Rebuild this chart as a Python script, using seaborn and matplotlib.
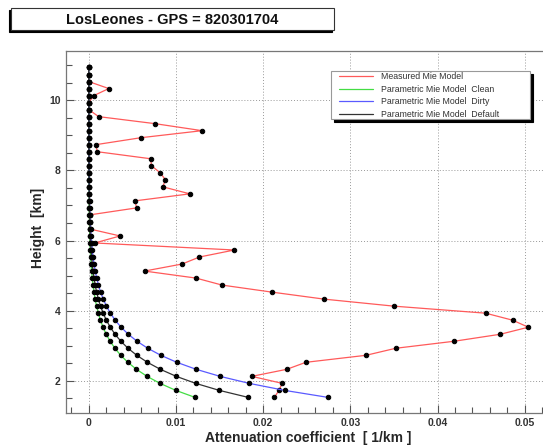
import numpy as np
import pandas as pd
import seaborn as sns
import matplotlib.pyplot as plt
import matplotlib.patches as mpatches
from matplotlib.lines import Line2D

sns.set_style('ticks')
plt.rcParams['font.family'] = ['Liberation Sans', 'DejaVu Sans']

# heights of the profile bins [km]
height = [1.53, 1.73, 1.93, 2.13, 2.33, 2.53, 2.73, 2.93, 3.13, 3.33,
          3.53, 3.73, 3.93, 4.13, 4.33, 4.53, 4.73, 4.93, 5.13, 5.33,
          5.53, 5.73, 5.93, 6.13, 6.33, 6.53, 6.73, 6.93, 7.13, 7.33,
          7.53, 7.73, 7.93, 8.13, 8.33, 8.53, 8.73, 8.93, 9.13, 9.33,
          9.53, 9.73, 9.93, 10.13, 10.33, 10.53, 10.73, 10.93]

# attenuation [1/km]
measured = [0.0213, 0.0218, 0.0222, 0.0187, 0.0227, 0.0249, 0.0318, 0.0352, 0.0419, 0.0472,
            0.0504, 0.0486, 0.0455, 0.0350, 0.0270, 0.0210, 0.0153, 0.0123, 0.0064, 0.0107,
            0.0127, 0.0167, 0.0007, 0.0036, 0.0001, 0.0001, 0.0001, 0.0055, 0.0053, 0.0116,
            0.0085, 0.0088, 0.0082, 0.0072, 0.0071, 0.0010, 0.0008, 0.0060, 0.0130, 0.0076,
            0.00115, 0.0, 0.0, 0.0006, 0.0023, 0.0, 0.0, 0.0]

clean = [0.01220, 0.00999, 0.00818, 0.00669, 0.00548, 0.00449, 0.00367, 0.00301, 0.00246, 0.00201,
         0.00165, 0.00135, 0.00111, 0.00091, 0.00074, 0.00061, 0.00050, 0.00041, 0.00033, 0.00027,
         0.00022, 0.00018, 0.00015, 0.00012, 0.00010, 0.00008, 0.00007, 0.00005, 0.00005, 0.00004,
         0.00003, 0.00003, 0.00002, 0.00002, 0.00002, 0.00001, 0.00001, 0.00001, 0.00001, 0.00001,
         0.00001, 0.00001, 0.0, 0.0, 0.0, 0.0, 0.0, 0.0]

dirty = [0.02745, 0.02247, 0.01841, 0.01506, 0.01233, 0.01010, 0.00827, 0.00677, 0.00554, 0.00454,
         0.00371, 0.00304, 0.00249, 0.00204, 0.00167, 0.00137, 0.00112, 0.00092, 0.00075, 0.00061,
         0.00050, 0.00041, 0.00034, 0.00028, 0.00023, 0.00018, 0.00015, 0.00012, 0.00010, 0.00008,
         0.00007, 0.00006, 0.00005, 0.00004, 0.00003, 0.00003, 0.00002, 0.00002, 0.00002, 0.00001,
         0.00001, 0.00001, 0.00001, 0.00001, 0.00001, 0.0, 0.0, 0.0]

default = [0.01830, 0.01498, 0.01227, 0.01004, 0.00822, 0.00673, 0.00551, 0.00451, 0.00369, 0.00302,
           0.00248, 0.00203, 0.00166, 0.00136, 0.00111, 0.00091, 0.00075, 0.00061, 0.00050, 0.00041,
           0.00034, 0.00027, 0.00022, 0.00018, 0.00015, 0.00012, 0.00010, 0.00008, 0.00007, 0.00006,
           0.00005, 0.00004, 0.00003, 0.00002, 0.00002, 0.00002, 0.00001, 0.00001, 0.00001, 0.00001,
           0.00001, 0.00001, 0.0, 0.0, 0.0, 0.0, 0.0, 0.0]

labels = ['Measured Mie Model', 'Parametric Mie Model  Clean',
          'Parametric Mie Model  Dirty', 'Parametric Mie Model  Default']
colors = ['#ff5a5a', '#44dd44', '#5a5aff', '#333333']

W, H = 543, 445
fig = plt.figure(figsize=(W / 100, H / 100), dpi=100)
ax = fig.add_axes([66 / W, 1 - 412.5 / H, (551 - 66) / W, (412.5 - 51) / H])

for vals, col in zip([measured, clean, dirty, default], colors):
    df = pd.DataFrame({'att': vals, 'h': height})
    sns.lineplot(data=df, x='att', y='h', sort=False, estimator=None, ax=ax,
                 color=col, linewidth=0.9, marker='o', markersize=3.2,
                 markerfacecolor='black', markeredgecolor='black')

ax.set_xlim(-0.0026, 0.053)
ax.set_ylim(1.1, 11.4)
ax.set_xticks([0, 0.01, 0.02, 0.03, 0.04, 0.05])
ax.set_xticklabels(['0', '0.01', '0.02', '0.03', '0.04', '0.05'])
ax.set_xticks(np.arange(-0.002, 0.053, 0.002), minor=True)
ax.set_yticks([2, 4, 6, 8, 10])
ax.set_yticks(np.arange(1.5, 11.4, 0.5), minor=True)
ax.tick_params(which='both', direction='in', top=False, right=False,
               colors='#555555', labelcolor='#333333', labelsize=7.5, pad=4)
ax.tick_params(which='major', length=5.5, width=0.8)
ax.tick_params(which='minor', length=4, width=0.8)
for lab in ax.get_xticklabels() + ax.get_yticklabels():
    lab.set_fontweight('bold')
ax.grid(True, which='major', linestyle=(0, (1, 2)), color='#999999', linewidth=0.7)
for s in ['left', 'bottom', 'top']:
    ax.spines[s].set_color('#777777')
    ax.spines[s].set_linewidth(0.9)
ax.spines['right'].set_visible(False)

ax.set_xlabel('Attenuation coefficient  [ 1/km ]', fontsize=10, fontweight='bold')
ax.set_ylabel('Height  [km]', fontsize=10, fontweight='bold')
ax.xaxis.set_label_coords(242.5 / 485, -(438 - 412.5) / 361.5)
ax.xaxis.label.set_va('center')
ax.yaxis.set_label_coords(-(66 - 38) / 485, 0.51)
ax.yaxis.label.set_va('center')

# title box with shadow
fig.patches.append(mpatches.Rectangle((9 / W, 1 - 32 / H), 323 / W, 22 / H,
                                      transform=fig.transFigure, facecolor='black',
                                      edgecolor='black', linewidth=0.8))
fig.patches.append(mpatches.Rectangle((11 / W, 1 - 30 / H), 323 / W, 22 / H,
                                      transform=fig.transFigure, facecolor='white',
                                      edgecolor='#333333', linewidth=0.8))
fig.text(172 / W, 1 - 19.5 / H, 'LosLeones - GPS = 820301704', ha='center', va='center',
         fontsize=10.5, fontweight='bold', color='#111111')

# legend box with shadow
fig.patches.append(mpatches.Rectangle((334 / W, 1 - 122 / H), 199 / W, 48 / H,
                                      transform=fig.transFigure, facecolor='black',
                                      edgecolor='black', linewidth=0.8, zorder=3))
fig.patches.append(mpatches.Rectangle((331 / W, 1 - 119 / H), 199 / W, 48 / H,
                                      transform=fig.transFigure, facecolor='white',
                                      edgecolor='#999999', linewidth=0.8, zorder=4))
handles = [Line2D([0], [0], color=c, linewidth=0.9) for c in colors]
fig.legend(handles, labels, loc='upper left', bbox_to_anchor=(333 / W, 1 - 66 / H),
           frameon=False, fontsize=6.3, handlelength=3.9, handletextpad=0.9,
           labelspacing=0.42, borderpad=0.2, labelcolor='#333333')

fig.savefig('out.png', dpi=100)
